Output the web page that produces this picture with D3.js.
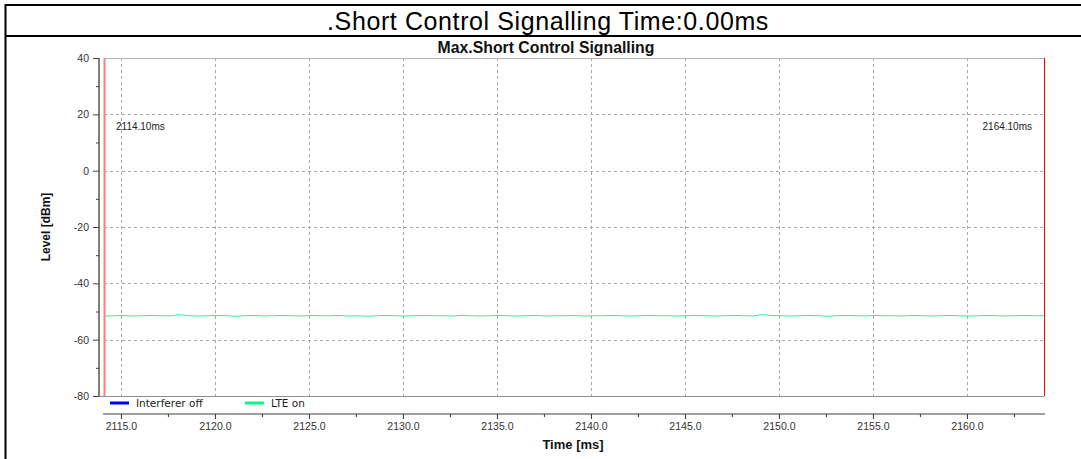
<!DOCTYPE html>
<html><head><meta charset="utf-8">
<script src="https://cdn.jsdelivr.net/npm/d3@7"></script>
<style>
html,body{margin:0;padding:0;background:#fff;}
svg{display:block;font-family:"Liberation Sans",Arial,sans-serif;}
</style></head>
<body>
<svg id="c" width="1081" height="459"></svg>
<script>
const pageTitle = ".Short Control Signalling Time:0.00ms";
const chartTitle = "Max.Short Control Signalling";
const xTitle = "Time [ms]";
const yTitle = "Level [dBm]";
const seriesNames = ["Interferer off", "LTE on"];
const seriesColors = ["#0000ff", "#00ff80"];
const xDomain = [2114.1, 2164.1];
const yDomain = [-80, 40];
const xMajorTicks = [2115, 2120, 2125, 2130, 2135, 2140, 2145, 2150, 2155, 2160];
const xMinorTicks = [2117.5, 2122.5, 2127.5, 2132.5, 2137.5, 2142.5, 2147.5, 2152.5, 2157.5, 2162.5];
const yMajorTicks = [40, 20, 0, -20, -40, -60, -80];
const yMinorTicks = [30, 10, -10, -30, -50, -70];
const markerTimes = [2114.1, 2164.1];
const markerLabels = ["2114.10ms", "2164.10ms"];
const sampleStart = 2114.1;
const sampleStep = 0.5;
const interfererOffValues = [];
const lteOnValues = [
-51.6,-51.5,-51.4,-51.6,-51.5,-51.4,-51.5,-51.6,-51.1,-51.5,
-51.6,-51.5,-51.4,-51.5,-51.7,-51.5,-51.4,-51.6,-51.5,-51.4,
-51.5,-51.6,-51.4,-51.5,-51.5,-51.4,-51.6,-51.5,-51.7,-51.5,
-51.4,-51.5,-51.6,-51.5,-51.4,-51.5,-51.5,-51.6,-51.4,-51.5,
-51.6,-51.5,-51.4,-51.5,-51.6,-51.5,-51.4,-51.6,-51.5,-51.5,
-51.4,-51.6,-51.5,-51.5,-51.4,-51.5,-51.6,-51.5,-51.4,-51.5,
-51.5,-51.6,-51.5,-51.4,-51.5,-51.6,-51.5,-51.4,-51.5,-51.6,
-51.1,-51.4,-51.5,-51.6,-51.5,-51.4,-51.5,-51.7,-51.5,-51.4,
-51.5,-51.6,-51.4,-51.5,-51.5,-51.6,-51.4,-51.5,-51.6,-51.5,
-51.4,-51.5,-51.6,-51.5,-51.4,-51.5,-51.6,-51.5,-51.4,-51.5,
-51.5];

const svg = d3.select("#c");

// outer frame
svg.append("line").attr("x1",5).attr("x2",1081).attr("y1",5).attr("y2",5).attr("stroke","#000").attr("stroke-width",2);
svg.append("line").attr("x1",5).attr("x2",1081).attr("y1",36).attr("y2",36).attr("stroke","#000").attr("stroke-width",2);
svg.append("line").attr("x1",5.5).attr("x2",5.5).attr("y1",4).attr("y2",459).attr("stroke","#000").attr("stroke-width",2);
svg.append("text").attr("x",548).attr("y",30).attr("text-anchor","middle").attr("font-size",25).attr("letter-spacing",0.6).attr("fill","#000").text(pageTitle);

const L = 104, R = 1044, T = 58, B = 396;
const x = d3.scaleLinear().domain(xDomain).range([L, R]);
const y = d3.scaleLinear().domain(yDomain).range([B, T]);

// chart title
svg.append("text").attr("x",546).attr("y",53).attr("text-anchor","middle").attr("font-size",15.8).attr("font-weight","bold").attr("fill","#111").text(chartTitle);

// grid
const grid = svg.append("g").attr("stroke","#a8a8a8").attr("stroke-dasharray","3,3").attr("stroke-width",1);
grid.selectAll("line.v").data(xMajorTicks).join("line")
  .attr("x1",d=>Math.round(x(d))+0.5).attr("x2",d=>Math.round(x(d))+0.5).attr("y1",T).attr("y2",B);
grid.selectAll("line.h").data(yMajorTicks.filter(d=>d!==40 && d!==-80)).join("line")
  .attr("x1",L).attr("x2",R).attr("y1",d=>Math.round(y(d))+0.5).attr("y2",d=>Math.round(y(d))+0.5);

// plot border top/bottom
svg.append("line").attr("x1",L).attr("x2",R).attr("y1",T+0.5).attr("y2",T+0.5).attr("stroke","#b4b4b4");
svg.append("line").attr("x1",99).attr("x2",R).attr("y1",B+0.5).attr("y2",B+0.5).attr("stroke","#909090");

// y axis
const yAxis = d3.axisLeft(y).tickValues(yMajorTicks).tickSize(6).tickPadding(4).tickFormat(d=>String(d));
const gy = svg.append("g").attr("transform","translate(99,0)").call(yAxis);
gy.select(".domain").attr("stroke","#808080").attr("stroke-width",2).attr("d",`M0,${T}V${B}`);
gy.selectAll(".tick line").attr("stroke","#444");
gy.selectAll(".tick text").attr("font-size",10.5).attr("fill","#333").attr("font-family","Liberation Sans, Arial, sans-serif");
const gyMinor = svg.append("g").attr("transform","translate(99,0)").call(d3.axisLeft(y).tickValues(yMinorTicks).tickSize(3).tickFormat(""));
gyMinor.select(".domain").remove();
gyMinor.selectAll(".tick line").attr("stroke","#444");

svg.append("text").attr("transform","translate(50,227) rotate(-90)").attr("text-anchor","middle")
  .attr("font-size",12).attr("font-weight","bold").attr("fill","#111").text(yTitle);

// x axis
const xAxis = d3.axisBottom(x).tickValues(xMajorTicks).tickSize(5).tickPadding(4).tickFormat(d3.format(".1f"));
const gx = svg.append("g").attr("transform","translate(0,414)").call(xAxis);
gx.select(".domain").attr("stroke","#404040").attr("stroke-width",1.2).attr("d",`M${L-1},0H${R+1}`);
gx.selectAll(".tick line").attr("stroke","#333");
gx.selectAll(".tick text").attr("font-size",10.5).attr("fill","#333").attr("font-family","Liberation Sans, Arial, sans-serif");
const gxMinor = svg.append("g").attr("transform","translate(0,414)").call(d3.axisBottom(x).tickValues(xMinorTicks).tickSize(3).tickFormat(""));
gxMinor.select(".domain").remove();
gxMinor.selectAll(".tick line").attr("stroke","#333");

svg.append("text").attr("x",573).attr("y",449).attr("text-anchor","middle").attr("font-size",13).attr("font-weight","bold").attr("fill","#111").text(xTitle);

// data lines
const line = d3.line().x((d,i)=>x(sampleStart + i*sampleStep)).y(d=>y(d));
svg.append("path").datum(interfererOffValues).attr("d",line).attr("fill","none").attr("stroke",seriesColors[0]).attr("stroke-width",1);
svg.append("path").datum(lteOnValues).attr("d",line).attr("fill","none").attr("stroke","#30f090").attr("stroke-width",1);

// markers
svg.append("line").attr("x1",x(markerTimes[0])+0.5).attr("x2",x(markerTimes[0])+0.5).attr("y1",T).attr("y2",B)
  .attr("stroke","#ff7f7f").attr("stroke-width",2);
svg.append("line").attr("x1",x(markerTimes[1])+0.5).attr("x2",x(markerTimes[1])+0.5).attr("y1",T).attr("y2",B)
  .attr("stroke","#ff0000").attr("stroke-width",1);
svg.append("text").attr("x",x(markerTimes[0])+12).attr("y",130).attr("font-size",10).attr("fill","#222").text(markerLabels[0]);
svg.append("text").attr("x",x(markerTimes[1])-12).attr("y",130).attr("text-anchor","end").attr("font-size",10).attr("fill","#222").text(markerLabels[1]);

// legend
const legX = [110, 245];
const lg = svg.append("g");
seriesNames.forEach((n,i)=>{
  lg.append("line").attr("x1",legX[i]).attr("x2",legX[i]+19).attr("y1",403).attr("y2",403).attr("stroke",seriesColors[i]).attr("stroke-width",3);
  lg.append("text").attr("x",legX[i]+26).attr("y",406.5).attr("font-size",10.5).attr("font-family","DejaVu Sans, sans-serif").attr("fill","#222").text(n);
});
</script>
</body></html>
